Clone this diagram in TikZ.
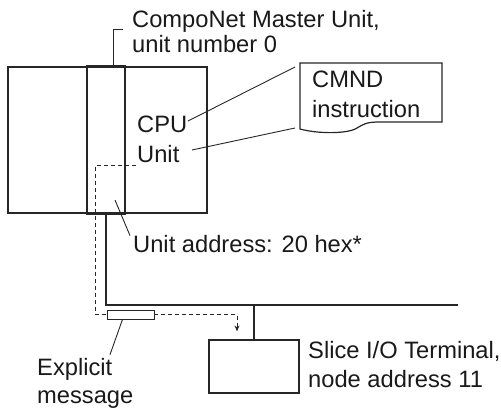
\documentclass[tikz,border=0pt]{standalone}
\usepackage{fontspec}
\setmainfont{Liberation Sans}
\usetikzlibrary{arrows.meta}

\begin{document}
\begin{tikzpicture}[
    x=1pt, y=-1pt,
    % Line and box styles
    unitbox/.style={draw=black!85, line width=1.2pt, minimum height=146pt, inner sep=0pt},
    boxline/.style={draw=black!85, line width=1.2pt},
    cable/.style={draw=black!85, line width=1.2pt},
    leader/.style={draw=black!85, line width=0.9pt},
    msgline/.style={draw=black!85, line width=0.9pt, dash pattern=on 4pt off 3pt},
    lbl/.style={anchor=base west, inner sep=0pt, align=left,
                font=\fontsize{23.7}{29}\selectfont, text=black!90}
]
\useasboundingbox (0,0) rectangle (501,409);

% 1. PLC and CompoNet Master Unit
\node[unitbox, minimum width=199pt] (plc) at (107.5,140) {};
\node[unitbox, minimum width=38pt] (master) at (106,140) {};
\draw[boxline, line width=2.2pt] (master.north west) -- (master.north east);
\draw[boxline, line width=2.2pt] (master.south west) -- (master.south east);

% 2. Labels (multi-line nodes sit on their last baseline)
\node[lbl, font=\fontsize{23.7}{25}\selectfont] (mastertxt) at (132,53) {CompoNet Master Unit,\\unit number 0};
\node[lbl, font=\fontsize{23.7}{30}\selectfont] (cputxt) at (137,163) {CPU\\Unit};
\node[lbl, font=\fontsize{23.7}{30}\selectfont] (cmndtxt) at (312,118) {CMND\\instruction};
\node[lbl] (addrtxt) at (133,252) {Unit address: 20 hex*};
\node[lbl, font=\fontsize{23.7}{28}\selectfont] (msgtxt) at (37,403) {Explicit\\message};
\node[lbl] (slavetxt) at (308,387) {Slice I/O Terminal,\\node address 11};

% 3. CMND instruction sheet
\draw[boxline] (300,129) -- (300,63) -- (442,63) -- (442,122) -- (380,122)
    .. controls (366,122) and (364,124) .. (357,128)
    .. controls (348,134) and (318,134) .. (300,129) -- cycle;
\coordinate (cmndtop) at (295,67);
\coordinate (cmndbot) at (295,128);

% 4. Slice I/O Terminal and explicit message
\node[boxline, minimum width=90pt, minimum height=53pt, inner sep=0pt] (slave) at (254,366.5) {};
\node[boxline, line width=0.9pt, minimum width=47pt, minimum height=9pt, inner sep=0pt] (msg) at (130.5,314.5) {};

% 5. CompoNet cable
\coordinate (cableend) at (458,305);
\draw[cable] (master.south) |- (cableend);
\draw[cable] (slave.north) -- (slave.north |- cableend);

% 6. Leader lines
\draw[leader] ([xshift=7pt]master.north) |- ([xshift=-9pt,yshift=24pt]mastertxt.base west);
\draw[leader] ([xshift=51pt,yshift=42pt]cputxt.base west) -- (cmndtop);
\draw[leader] ([xshift=55pt,yshift=13pt]cputxt.base west) -- (cmndbot);
\draw[leader] (115,200) -- ([xshift=-3pt,yshift=-1pt]addrtxt.north west);
\draw[leader] ([xshift=-8pt]msg.south) -- ([xshift=73pt,yshift=3pt]msgtxt.north west);

% 7. Message route
\coordinate (msgsrc) at (136,165);
\draw[msgline] (msgsrc) -| ([xshift=-11pt]msg.west) -- (msg.west);
\draw[msgline, -{Stealth[length=6pt,width=5pt]}] (msg.east) -| ([xshift=-17pt,yshift=8pt]slave.north);

\end{tikzpicture}
\end{document}
